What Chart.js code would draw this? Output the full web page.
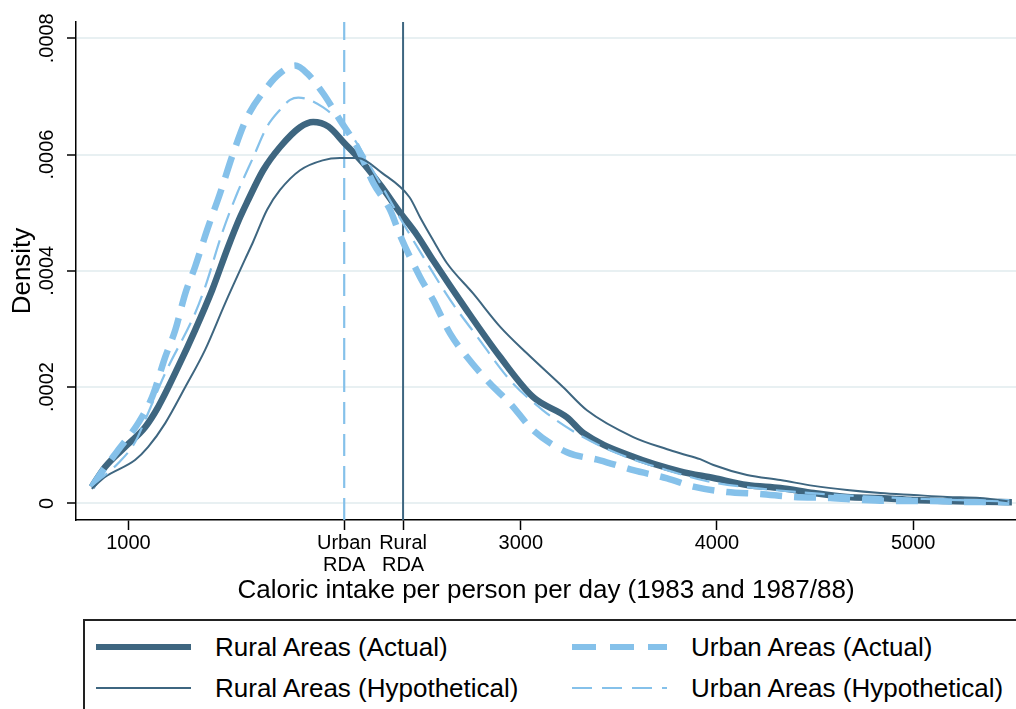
<!DOCTYPE html>
<html>
<head>
<meta charset="utf-8">
<title>Caloric intake density</title>
<script src="https://cdn.jsdelivr.net/npm/chart.js@4.4.1/dist/chart.umd.min.js"></script>
<style>
  html, body { margin: 0; padding: 0; background: #fff; overflow: hidden; }
  #wrap { position: absolute; left: 0; top: 0; width: 1016px; height: 612px; }
  #legend {
    position: absolute; left: 83px; top: 619px; width: 960px; height: 120px;
    border: 2px solid #222; box-sizing: border-box;
    font-family: "Liberation Sans", Arial, Helvetica, sans-serif; font-size: 26px; color: #000;
  }
  .item { position: absolute; height: 30px; line-height: 30px; white-space: nowrap; }
  .item svg { position: absolute; left: 0; top: 0; }
  .item span { position: absolute; top: 0; }
</style>
</head>
<body>
<div id="wrap"><canvas id="c" width="1016" height="612"></canvas></div>
<div id="legend"></div>
<script>
// Kernel density estimates of calories per person per day
const ruralActualX = [813, 881, 983, 1085, 1152, 1254, 1340, 1427, 1508, 1569, 1605, 1687, 1773, 1875, 1942, 2020, 2100, 2197, 2290, 2387, 2470, 2553, 2725, 2894, 3062, 3235, 3318, 3573, 3812, 3982, 4153, 4323, 4493, 4663, 4833, 5003, 5173, 5340, 5503];
const ruralActualY = [0.000028, 0.0000625, 0.000097, 0.000131, 0.000166, 0.000235, 0.000298, 0.000367, 0.000441, 0.000492, 0.000518, 0.000573, 0.000613, 0.000647, 0.000656, 0.000648, 0.00062, 0.000585, 0.000545, 0.000499, 0.000462, 0.000418, 0.000332, 0.000252, 0.000183, 0.000148, 0.000121, 0.00008, 0.000055, 0.0000435, 0.0000315, 0.0000263, 0.0000177, 0.000011, 0.0000091, 0.0000057, 0.000004, 0.0000025, 0.000002];

const urbanActualX = [813, 846, 948, 1050, 1121, 1188, 1239, 1290, 1340, 1401, 1467, 1534, 1605, 1707, 1773, 1850, 1910, 1993, 2079, 2166, 2248, 2335, 2386, 2487, 2553, 2640, 2725, 2843, 2945, 3062, 3235, 3404, 3573, 3746, 3880, 4050, 4221, 4389, 4577, 4746, 4917, 5085, 5254, 5490];
const urbanActualY = [0.000028, 0.0000453, 0.0000917, 0.000138, 0.000183, 0.000252, 0.000298, 0.000361, 0.000407, 0.00047, 0.000533, 0.000602, 0.000664, 0.000716, 0.00074, 0.000753, 0.00074, 0.000705, 0.000659, 0.000613, 0.000551, 0.000504, 0.00046, 0.000389, 0.00035, 0.000292, 0.000252, 0.000206, 0.000172, 0.000126, 0.000088, 0.000074, 0.000057, 0.000043, 0.0000286, 0.0000195, 0.000016, 0.000011, 0.0000091, 0.0000057, 0.000004, 0.000004, 0.0000025, 0.000002];

const ruralHypX = [813, 881, 1034, 1101, 1188, 1290, 1391, 1493, 1595, 1636, 1707, 1773, 1875, 1990, 2078, 2166, 2294, 2432, 2490, 2549, 2624, 2757, 2894, 3031, 3215, 3337, 3573, 3746, 3812, 3914, 3982, 4153, 4323, 4493, 4663, 4833, 5003, 5173, 5340, 5493];
const ruralHypY = [0.000025, 0.0000453, 0.0000745, 0.000097, 0.000138, 0.0002, 0.000264, 0.000344, 0.00042, 0.00045, 0.000505, 0.000539, 0.000573, 0.00059, 0.000594, 0.000594, 0.000568, 0.000527, 0.00049, 0.000455, 0.000413, 0.000361, 0.000304, 0.000258, 0.0002, 0.00016, 0.000114, 0.000093, 0.000086, 0.000076, 0.000066, 0.0000487, 0.00004, 0.00003, 0.0000229, 0.0000177, 0.0000143, 0.000011, 0.0000091, 0.000003];

const urbanHypX = [813, 948, 1034, 1085, 1188, 1340, 1391, 1478, 1554, 1636, 1707, 1773, 1824, 1866, 1993, 2130, 2283, 2386, 2503, 2640, 2777, 2945, 3113, 3287, 3491, 3746, 3950, 4200, 4500, 4800, 5100, 5490];
const urbanHypY = [0.00003, 0.000069, 0.000105, 0.000143, 0.000224, 0.000327, 0.000372, 0.000465, 0.000533, 0.000595, 0.000648, 0.000677, 0.000694, 0.000698, 0.000681, 0.000636, 0.000551, 0.00049, 0.000424, 0.00035, 0.000287, 0.000212, 0.00016, 0.00012, 0.000086, 0.000057, 0.000038, 0.000026, 0.000017, 0.000011, 0.000007, 0.000003];

// Recommended daily allowances marked on the x axis
const urbanRDA = 2100;
const ruralRDA = 2400;

// Axis ticks and labels
const xTickValues = [1000, urbanRDA, ruralRDA, 3000, 4000, 5000];
const xTickLabels = ['1000', ['Urban', 'RDA'], ['Rural', 'RDA'], '3000', '4000', '5000'];
const yTickValues = [0, 0.0002, 0.0004, 0.0006, 0.0008];
const yTickLabels = ['0', '.0002', '.0004', '.0006', '.0008'];

const seriesNames = ['Rural Areas (Actual)', 'Urban Areas (Actual)', 'Rural Areas (Hypothetical)', 'Urban Areas (Hypothetical)'];

const xMin = 733, xMax = 5524;
const yMin = -0.0000287, yMax = 0.000828;

const DARK = '#3e6680';
const LIGHT = '#85c1ea';
const FONT = '"Liberation Sans", Arial, Helvetica, sans-serif';

const toPoints = (xs, ys) => xs.map((x, i) => ({ x: x, y: ys[i] }));

Chart.defaults.font.family = FONT;
Chart.defaults.color = '#000';

const styles = [
  { color: DARK,  width: 6.5, dash: [] },
  { color: LIGHT, width: 6.5, dash: [22, 12] },
  { color: DARK,  width: 2,   dash: [] },
  { color: LIGHT, width: 2.2, dash: [20, 9] }
];

const seriesData = [
  toPoints(ruralActualX, ruralActualY),
  toPoints(urbanActualX, urbanActualY),
  toPoints(ruralHypX, ruralHypY),
  toPoints(urbanHypX, urbanHypY)
];

// later series in the list sit on top
const drawOrder = [3, 2, 1, 0];

const datasets = seriesData.map((pts, i) => ({
  label: seriesNames[i],
  data: pts,
  borderColor: styles[i].color,
  borderWidth: styles[i].width,
  borderDash: styles[i].dash,
  borderCapStyle: 'butt',
  borderJoinStyle: 'round',
  cubicInterpolationMode: 'monotone',
  pointRadius: 0,
  fill: false,
  order: drawOrder[i]
}));

datasets.push({
  label: 'Urban RDA',
  data: [{ x: urbanRDA, y: yMin }, { x: urbanRDA, y: yMax }],
  borderColor: LIGHT, borderWidth: 2.2, borderDash: [22, 10],
  pointRadius: 0, fill: false, order: 6
});
datasets.push({
  label: 'Rural RDA',
  data: [{ x: ruralRDA, y: yMin }, { x: ruralRDA, y: yMax }],
  borderColor: DARK, borderWidth: 2, borderDash: [],
  pointRadius: 0, fill: false, order: 5
});

// Rotated tick labels on the density axis
const yTickLabelPlugin = {
  id: 'yTickLabelPlugin',
  afterDraw(chart) {
    const s = chart.scales.y;
    const c = chart.ctx;
    c.save();
    c.font = '20px ' + FONT;
    c.fillStyle = '#000';
    c.textAlign = 'center';
    c.textBaseline = 'alphabetic';
    yTickValues.forEach((v, i) => {
      const py = s.getPixelForValue(v);
      c.save();
      c.translate(s.right - 23, py);
      c.rotate(-Math.PI / 2);
      c.fillText(yTickLabels[i], 0, 0);
      c.restore();
    });
    c.restore();
  }
};

new Chart(document.getElementById('c').getContext('2d'), {
  type: 'line',
  data: { datasets: datasets },
  options: {
    responsive: false,
    animation: false,
    layout: { padding: { top: 22, right: 0, bottom: 0, left: 0 } },
    plugins: { legend: { display: false }, tooltip: { enabled: false } },
    scales: {
      x: {
        type: 'linear', min: xMin, max: xMax,
        afterBuildTicks: s => { s.ticks = xTickValues.map(v => ({ value: v })); },
        afterFit: s => { s.height = 92; },
        ticks: {
          autoSkip: false, maxRotation: 0, minRotation: 0, padding: 2,
          font: { size: 20, lineHeight: 1.1 }, color: '#000',
          callback: (v, i) => xTickLabels[i]
        },
        grid: { drawOnChartArea: false, tickLength: 10, tickColor: '#000', tickWidth: 1.5 },
        border: { color: '#000', width: 1.5 },
        title: {
          display: true, text: 'Caloric intake per person per day (1983 and 1987/88)',
          font: { size: 26 }, color: '#000', padding: { top: 0, bottom: 6 }
        }
      },
      y: {
        type: 'linear', min: yMin, max: yMax,
        afterBuildTicks: s => { s.ticks = yTickValues.map(v => ({ value: v })); },
        afterFit: s => { s.width = 76; },
        ticks: { display: false },
        grid: { color: '#e8f0f2', lineWidth: 2, tickLength: 9, tickColor: '#000', tickWidth: 1.5 },
        border: { color: '#000', width: 1.5 },
        title: {
          display: true, text: 'Density',
          font: { size: 26 }, color: '#000', padding: { top: 7, bottom: 0 }
        }
      }
    }
  },
  plugins: [yTickLabelPlugin]
});

// Legend: two columns, two rows
const legend = document.getElementById('legend');
const cells = [
  { left: 11, top: 11 },
  { left: 487, top: 11 },
  { left: 11, top: 52 },
  { left: 487, top: 52 }
];
seriesNames.forEach((name, i) => {
  const st = styles[i];
  const item = document.createElement('div');
  item.className = 'item';
  item.style.left = cells[i].left + 'px';
  item.style.top = cells[i].top + 'px';
  const dash = st.dash.length ? ' stroke-dasharray="' + (i === 1 ? '24 14' : '20 10') + '"' : '';
  item.innerHTML =
    '<svg width="96" height="30"><line x1="0" y1="15" x2="95" y2="15" stroke="' + st.color +
    '" stroke-width="' + (st.width > 3 ? 6 : 2) + '"' + dash + '/></svg>' +
    '<span style="left:119px">' + name + '</span>';
  legend.appendChild(item);
});
</script>
</body>
</html>
